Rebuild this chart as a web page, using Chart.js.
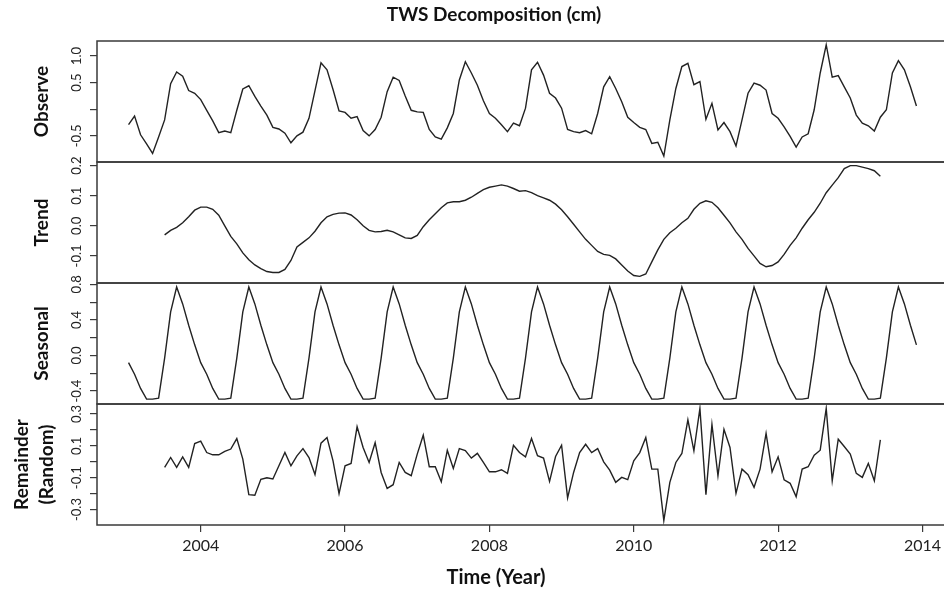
<!DOCTYPE html>
<html>
<head>
<meta charset="utf-8">
<title>TWS Decomposition</title>
<script src="https://cdn.jsdelivr.net/npm/chart.js@4.4.1/dist/chart.umd.min.js"></script>
<style>
  html, body { margin: 0; padding: 0; background: #fff; overflow: hidden; }
  #wrap { position: relative; width: 952px; height: 592px; }
</style>
</head>
<body>
<div id="wrap"><canvas id="myChart"></canvas></div>
<script>
// monthly series, Jan 2003 - Dec 2013
const startYear = 2003;

const observe = [
  -0.29, -0.13, -0.48, -0.65, -0.83, -0.52, -0.20, 0.48, 0.70, 0.62, 0.35, 0.30,
  0.18, -0.02, -0.22, -0.44, -0.41, -0.44, -0.02, 0.38, 0.44, 0.24, 0.06, -0.11,
  -0.34, -0.37, -0.45, -0.63, -0.50, -0.43, -0.17, 0.35, 0.87, 0.74, 0.37, -0.03,
  -0.06, -0.17, -0.14, -0.40, -0.50, -0.38, -0.15, 0.33, 0.60, 0.54, 0.25, -0.02,
  -0.05, -0.06, -0.38, -0.52, -0.56, -0.35, -0.08, 0.55, 0.89, 0.68, 0.45, 0.16,
  -0.08, -0.17, -0.29, -0.42, -0.26, -0.31, 0.02, 0.74, 0.88, 0.64, 0.30, 0.21,
  0.02, -0.38, -0.42, -0.44, -0.40, -0.46, -0.08, 0.42, 0.61, 0.39, 0.14, -0.15,
  -0.25, -0.34, -0.38, -0.64, -0.62, -0.88, -0.20, 0.39, 0.80, 0.86, 0.46, 0.52,
  -0.19, 0.11, -0.39, -0.25, -0.42, -0.69, -0.20, 0.30, 0.49, 0.45, 0.36, -0.08,
  -0.17, -0.33, -0.51, -0.71, -0.52, -0.46, -0.01, 0.68, 1.21, 0.60, 0.63, 0.42,
  0.21, -0.11, -0.26, -0.31, -0.41, -0.15, -0.01, 0.68, 0.91, 0.74, 0.42, 0.06
];

// moving-average trend: NA for the first and last six months
const trend = [
  null, null, null, null, null, null, -0.030, -0.015, -0.005, 0.010, 0.030, 0.052,
  0.062, 0.062, 0.055, 0.035, 0.000, -0.035, -0.060, -0.090, -0.113, -0.130, -0.142, -0.152,
  -0.155, -0.155, -0.145, -0.115, -0.070, -0.055, -0.040, -0.018, 0.010, 0.030, 0.038, 0.042,
  0.043, 0.036, 0.020, 0.000, -0.015, -0.020, -0.019, -0.015, -0.020, -0.030, -0.040, -0.042,
  -0.032, -0.003, 0.020, 0.040, 0.060, 0.076, 0.080, 0.080, 0.085, 0.095, 0.108, 0.120,
  0.128, 0.132, 0.136, 0.132, 0.124, 0.115, 0.117, 0.110, 0.100, 0.093, 0.085, 0.072,
  0.053, 0.030, 0.005, -0.020, -0.045, -0.065, -0.085, -0.095, -0.098, -0.110, -0.130, -0.150,
  -0.165, -0.168, -0.160, -0.120, -0.080, -0.045, -0.023, -0.008, 0.010, 0.025, 0.055, 0.075,
  0.083, 0.078, 0.060, 0.035, 0.010, -0.020, -0.045, -0.075, -0.100, -0.125, -0.136, -0.132,
  -0.120, -0.095, -0.065, -0.040, -0.008, 0.020, 0.045, 0.075, 0.110, 0.135, 0.160, 0.190,
  0.200, 0.200, 0.195, 0.190, 0.183, 0.165, null, null, null, null, null, null
];

const seasonal = [
  -0.08, -0.21, -0.37, -0.49, -0.49, -0.48, -0.03, 0.49, 0.77, 0.58, 0.34, 0.12,
  -0.08, -0.21, -0.37, -0.49, -0.49, -0.48, -0.03, 0.49, 0.77, 0.58, 0.34, 0.12,
  -0.08, -0.21, -0.37, -0.49, -0.49, -0.48, -0.03, 0.49, 0.77, 0.58, 0.34, 0.12,
  -0.08, -0.21, -0.37, -0.49, -0.49, -0.48, -0.03, 0.49, 0.77, 0.58, 0.34, 0.12,
  -0.08, -0.21, -0.37, -0.49, -0.49, -0.48, -0.03, 0.49, 0.77, 0.58, 0.34, 0.12,
  -0.08, -0.21, -0.37, -0.49, -0.49, -0.48, -0.03, 0.49, 0.77, 0.58, 0.34, 0.12,
  -0.08, -0.21, -0.37, -0.49, -0.49, -0.48, -0.03, 0.49, 0.77, 0.58, 0.34, 0.12,
  -0.08, -0.21, -0.37, -0.49, -0.49, -0.48, -0.03, 0.49, 0.77, 0.58, 0.34, 0.12,
  -0.08, -0.21, -0.37, -0.49, -0.49, -0.48, -0.03, 0.49, 0.77, 0.58, 0.34, 0.12,
  -0.08, -0.21, -0.37, -0.49, -0.49, -0.48, -0.03, 0.49, 0.77, 0.58, 0.34, 0.12,
  -0.08, -0.21, -0.37, -0.49, -0.49, -0.48, -0.03, 0.49, 0.77, 0.58, 0.34, 0.12
];

const remainder = [
  null, null, null, null, null, null, -0.035, 0.027, -0.035, 0.031, -0.035, 0.115,
  0.130, 0.058, 0.044, 0.044, 0.065, 0.080, 0.146, 0.017, -0.206, -0.210, -0.110, -0.100,
  -0.108, -0.025, 0.058, -0.025, 0.037, 0.083, 0.027, -0.080, 0.117, 0.152, 0.006, -0.200,
  -0.025, -0.010, 0.220, 0.090, -0.004, 0.120, -0.067, -0.167, -0.144, -0.004, -0.067, -0.087,
  0.048, 0.167, -0.031, -0.031, -0.125, 0.073, -0.042, 0.083, 0.071, 0.023, 0.053, -0.004,
  -0.063, -0.063, -0.050, -0.073, 0.104, 0.058, 0.031, 0.146, 0.038, 0.023, -0.123, 0.033,
  0.104, -0.227, -0.067, 0.058, 0.110, 0.058, 0.083, 0.000, -0.052, -0.129, -0.098, -0.112,
  0.006, 0.058, 0.152, -0.046, -0.046, -0.369, -0.129, -0.004, 0.052, 0.263, 0.069, 0.335,
  -0.206, 0.235, -0.088, 0.204, 0.090, -0.198, -0.046, -0.081, -0.160, -0.046, 0.179, -0.063,
  0.031, -0.113, -0.135, -0.219, -0.046, -0.031, 0.042, 0.073, 0.335, -0.119, 0.142, 0.096,
  0.048, -0.073, -0.098, -0.010, -0.119, 0.138, null, null, null, null, null, null
];

const yearTicks = [2004, 2006, 2008, 2010, 2012, 2014];
const observeTicks = [-0.5, 0, 0.5, 1.0];
const observeLabels = [-0.5, 0.5, 1.0];
const trendTicks = [-0.1, 0, 0.1, 0.2];
const trendLabels = [-0.1, 0, 0.1, 0.2];
const seasonalTicks = [-0.4, -0.2, 0, 0.2, 0.4, 0.6, 0.8];
const seasonalLabels = [-0.4, 0, 0.4, 0.8];
const remainderTicks = [-0.3, -0.2, -0.1, 0, 0.1, 0.2, 0.3];
const remainderLabels = [-0.3, -0.1, 0.1, 0.3];

const mainTitle = "TWS Decomposition (cm)";
const xTitle = "Time (Year)";

const time = observe.map((v, i) => startYear + i / 12);
const lineColor = "#222";
const boxColor = "#3a3a3a";
const fontFamily = "Lato, 'Open Sans', sans-serif";

function toPoints(values) {
  return values.map((v, i) => ({ x: time[i], y: v }));
}

function panelScale(weight, min, max, ticks, title, titlePad) {
  return {
    type: "linear",
    position: "left",
    stack: "tws",
    stackWeight: 1,
    weight: weight,
    min: min,
    max: max,
    afterBuildTicks: (s) => {
      s.ticks = ticks.map((v) => ({ value: v }));
    },
    afterFit: (s) => {
      s.width = 97; // left margin of the R plot
    },
    grid: { drawOnChartArea: false, drawTicks: true, tickLength: 7, color: boxColor, lineWidth: 1.2 },
    border: { display: false },
    ticks: { display: false },
    title: {
      display: true,
      text: title,
      color: "#111",
      font: { family: fontFamily, size: 19, weight: "bold", lineHeight: 1.3 },
      padding: { top: titlePad, bottom: 0 },
    },
  };
}

const panels = [
  { id: "yObs", labels: observeLabels },
  { id: "yTrend", labels: trendLabels },
  { id: "ySeas", labels: seasonalLabels },
  { id: "yRem", labels: remainderLabels },
];

// panel boxes, rotated tick labels and the two titles, the way R lays them out
const rText = {
  id: "rText",
  afterDraw(chart) {
    const ctx = chart.ctx;
    const area = chart.chartArea;
    ctx.save();
    ctx.strokeStyle = boxColor;
    ctx.lineWidth = 1.5;
    panels.forEach((p) => {
      const s = chart.scales[p.id];
      ctx.strokeRect(area.left, s.top, area.right - area.left, s.bottom - s.top);
    });

    ctx.fillStyle = "#222";
    ctx.font = "13px " + fontFamily;
    ctx.textAlign = "center";
    ctx.textBaseline = "middle";
    panels.forEach((p) => {
      const s = chart.scales[p.id];
      p.labels.forEach((v) => {
        ctx.save();
        ctx.translate(area.left - 20, s.getPixelForValue(v));
        ctx.rotate(-Math.PI / 2);
        ctx.fillText(v.toFixed(1), 0, 0);
        ctx.restore();
      });
    });

    ctx.fillStyle = "#111";
    ctx.font = "bold 19px " + fontFamily;
    ctx.fillText(mainTitle, 494, 15);
    ctx.font = "bold 20px " + fontFamily;
    ctx.fillText(xTitle, 496, 578);
    ctx.restore();
  },
};

function lineSet(label, values, axis) {
  return {
    label: label,
    data: toPoints(values),
    yAxisID: axis,
    xAxisID: "x",
    borderColor: lineColor,
    borderWidth: 1.4,
    pointRadius: 0,
    tension: 0,
    spanGaps: false,
  };
}

new Chart("myChart", {
  type: "line",
  data: {
    datasets: [
      lineSet("Observe", observe, "yObs"),
      lineSet("Trend", trend, "yTrend"),
      lineSet("Seasonal", seasonal, "ySeas"),
      lineSet("Remainder", remainder, "yRem"),
    ],
  },
  options: {
    responsive: true,
    maintainAspectRatio: false,
    animation: false,
    layout: { padding: { top: 41, right: 4, left: 0, bottom: 0 } },
    plugins: {
      legend: { display: false },
      tooltip: { enabled: false },
    },
    scales: {
      x: {
        type: "linear",
        position: "bottom",
        min: 2002.563,
        max: 2014.354,
        afterBuildTicks: (s) => {
          s.ticks = yearTicks.map((v) => ({ value: v }));
        },
        afterFit: (s) => {
          s.height = 67;
        },
        grid: { drawOnChartArea: false, drawTicks: true, tickLength: 7, color: boxColor, lineWidth: 1.2 },
        border: { display: false },
        ticks: {
          color: "#222",
          font: { family: fontFamily, size: 16 },
          padding: 4,
          maxRotation: 0,
          autoSkip: false,
          callback: (v) => String(v),
        },
      },
      yObs: panelScale(4, -0.99, 1.28, observeTicks, "Observe", 30),
      yTrend: panelScale(3, -0.19, 0.212, trendTicks, "Trend", 30),
      ySeas: panelScale(2, -0.545, 0.815, seasonalTicks, "Seasonal", 30),
      yRem: panelScale(1, -0.397, 0.363, remainderTicks, ["Remainder", "(Random)"], 10),
    },
  },
  plugins: [rText],
});
</script>
</body>
</html>
